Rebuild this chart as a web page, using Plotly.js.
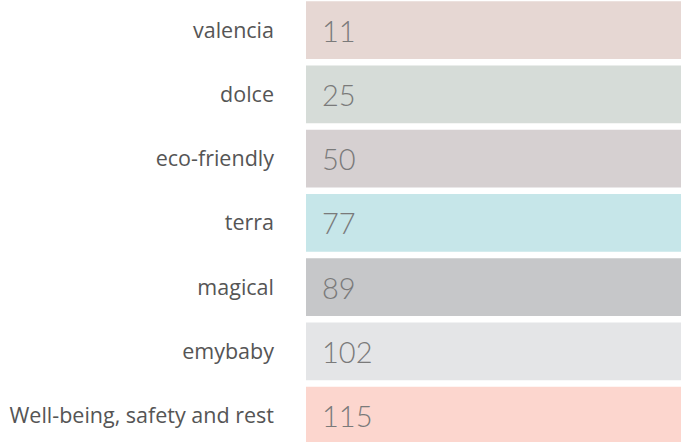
<!DOCTYPE html>
<html>
<head>
<meta charset="utf-8">
<script src="https://cdn.plot.ly/plotly-3.0.1.min.js"></script>
<style>html,body{margin:0;padding:0;background:#fff;}#chart{width:681px;height:442px;}</style>
</head>
<body>
<div id="chart"></div>
<script>
const categories = ["valencia", "dolce", "eco-friendly", "terra", "magical", "emybaby", "Well-being, safety and rest"];
const values = [11, 25, 50, 77, 89, 102, 115];
const colors = ["#e6d7d3", "#d6dcd8", "#d6d0d1", "#c6e6e9", "#c6c7c9", "#e4e5e7", "#fcd6ce"];

const trace = {
  type: "bar",
  orientation: "h",
  y: categories,
  x: values,
  marker: {color: colors, line: {width: 0}},
  hoverinfo: "none",
  cliponaxis: true
};

const annotations = categories.map((c, i) => ({
  x: 0, y: c, xref: "x", yref: "y",
  text: String(values[i]),
  showarrow: false,
  xanchor: "left", yanchor: "middle",
  xshift: 14,
  font: {family: "Lato, sans-serif", size: 29, color: "#7a7a7a", weight: 300}
}));

const layout = {
  width: 681, height: 442,
  margin: {l: 306, r: 0, t: 0, b: 0, pad: 0},
  paper_bgcolor: "#ffffff",
  plot_bgcolor: "#ffffff",
  bargap: 0.1,
  showlegend: false,
  xaxis: {range: [0, Math.min(...values)], visible: false, fixedrange: true},
  yaxis: {
    type: "category",
    categoryorder: "array",
    categoryarray: categories,
    range: [6.41, -0.47],
    showgrid: false, zeroline: false, showline: false,
    ticks: "",
    ticklabelstandoff: 31,
    tickfont: {family: "'Open Sans', sans-serif", size: 21.5, color: "#555555"},
    fixedrange: true
  },
  annotations: annotations
};

Plotly.newPlot("chart", [trace], layout, {displayModeBar: false, staticPlot: true});
</script>
</body>
</html>
